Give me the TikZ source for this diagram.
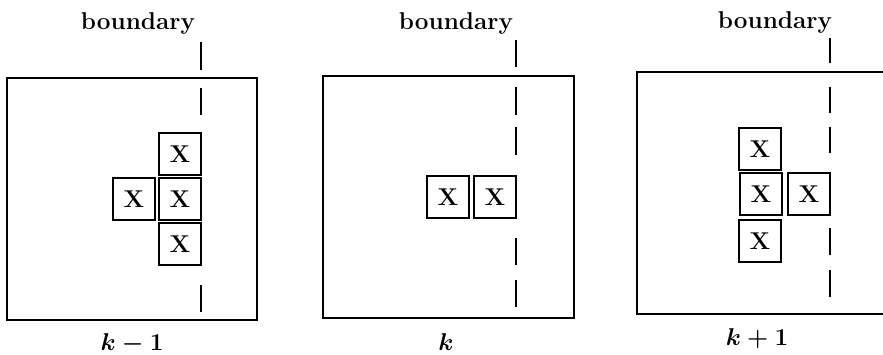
\documentclass[tikz,border=0pt]{standalone}
\usepackage{tikz}
\usetikzlibrary{positioning}
\usepackage{amsmath}

\begin{document}
\begin{tikzpicture}[
  x=0.025cm, y=-0.025cm,
  frame/.style={line width=2pt, line join=miter},
  cellbox/.style={
    draw, fill=white, line width=1.4pt,
    minimum size=1.05cm, inner sep=0pt,
    font=\LARGE\bfseries,
  },
  bndlbl/.style={font=\LARGE\bfseries},
  steplbl/.style={font=\LARGE\boldmath},
  bndline/.style={line width=1.8pt},
]

\useasboundingbox (0,0) rectangle (883,355);

% Boundary x-positions
\def\bI{201}
\def\bII{516}
\def\bIII{830}

% ---- Frames ----
\draw[frame] (7,78) rectangle (257,320);
\draw[frame] (323,76) rectangle (574,318);
\draw[frame] (883,72) -- (637,72) -- (637,314) -- (883,314);

% ---- Boundary lines ----
\foreach \a/\b in {42/70, 88/115, 285/312}
  \draw[bndline] (\bI,\a) -- (\bI,\b);
\foreach \a/\b in {40/67, 87/115, 127/155, 238/265, 280/307}
  \draw[bndline] (\bII,\a) -- (\bII,\b);
\foreach \a/\b in {38/63, 87/113, 127/153, 228/255, 270/297}
  \draw[bndline] (\bIII,\a) -- (\bIII,\b);

% ---- Labels ----
\node[bndlbl] (lblI) at (138,23) {boundary};
\node[bndlbl] (lblII) at (456,23) {boundary};
\node[bndlbl] (lblIII) at (775,22) {boundary};

\node[steplbl] (stI) at (132,344) {$k-1$};
\node[steplbl] (stII) at (446,342) {$k$};
\node[steplbl] (stIII) at (757,339) {$k+1$};

% ======== Step k-1 ========
\node[cellbox] (aT) at (180,154) {X};
\node[cellbox] (aM) at (180,199) {X};
\node[cellbox] (aB) at (180,244) {X};
\node[cellbox] (aL) at (134,199) {X};

% ======== Step k ========
\node[cellbox] (bL) at (448,197) {X};
\node[cellbox] (bR) at (495,197) {X};

% ======== Step k+1 ========
\node[cellbox] (cT) at (760,149) {X};
\node[cellbox] (cM) at (761,194) {X};
\node[cellbox] (cB) at (760,241) {X};
\node[cellbox] (cR) at (809,194) {X};

\end{tikzpicture}
\end{document}
